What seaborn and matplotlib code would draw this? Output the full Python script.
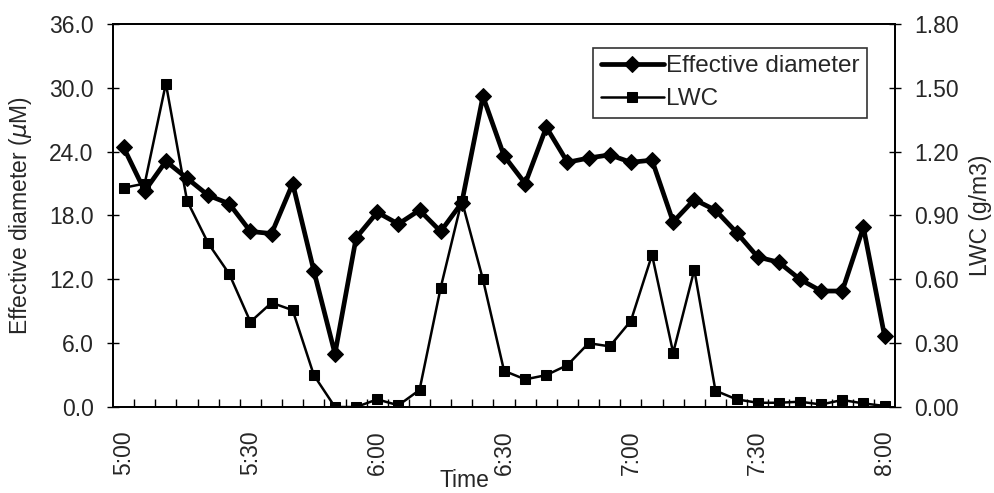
import matplotlib
matplotlib.use("Agg")
import matplotlib.pyplot as plt
import seaborn as sns
import pandas as pd
import numpy as np

times = ["5:00","5:05","5:10","5:15","5:20","5:25","5:30","5:35","5:40","5:45","5:50","5:55",
         "6:00","6:05","6:10","6:15","6:20","6:25","6:30","6:35","6:40","6:45","6:50","6:55",
         "7:00","7:05","7:10","7:15","7:20","7:25","7:30","7:35","7:40","7:45","7:50","7:55","8:00"]
eff_diameter = [24.4, 20.3, 23.1, 21.5, 19.9, 19.1, 16.5, 16.3, 21.0, 12.8, 5.0, 15.9,
                18.3, 17.2, 18.5, 16.5, 19.2, 29.2, 23.6, 21.0, 26.3, 23.0, 23.4, 23.7,
                23.0, 23.2, 17.4, 19.5, 18.5, 16.4, 14.1, 13.6, 12.0, 10.9, 10.9, 16.9, 6.7]
lwc = [1.03, 1.05, 1.52, 0.97, 0.77, 0.625, 0.40, 0.49, 0.455, 0.15, 0.0, 0.0,
       0.036, 0.008, 0.08, 0.56, 0.97, 0.60, 0.17, 0.13, 0.15, 0.197, 0.30, 0.285,
       0.405, 0.715, 0.255, 0.645, 0.077, 0.036, 0.02, 0.02, 0.025, 0.012, 0.033, 0.017, 0.005]
tick_labels = ["5:00", "5:30", "6:00", "6:30", "7:00", "7:30", "8:00"]

df = pd.DataFrame({"idx": np.arange(len(times)), "time": times,
                   "diam": eff_diameter, "lwc": lwc})

sns.set_theme(style="white")
plt.rcParams['font.family'] = ['Liberation Sans', 'DejaVu Sans']
FS = 16.5

fig = plt.figure(figsize=(9.95, 4.93), dpi=100)
ax = fig.add_axes([0.1136, 0.1744, 0.786, 0.777])
ax2 = ax.twinx()

sns.lineplot(data=df, x="idx", y="diam", ax=ax, color="black", linewidth=3.4,
             marker="D", markersize=8, markeredgecolor="black", label="Effective diameter", legend=False)
sns.lineplot(data=df, x="idx", y="lwc", ax=ax2, color="black", linewidth=1.8,
             marker="s", markersize=7.5, markeredgecolor="black", label="LWC", legend=False)

n = len(times)
ax.set_xlim(-0.5, n - 0.5)
ax.set_ylim(0, 36)
ax2.set_ylim(0, 1.8)
ax.set_yticks(np.arange(0, 36.1, 6))
ax.set_yticklabels([f"{v:.1f}" for v in np.arange(0, 36.1, 6)])
ax2.set_yticks(np.arange(0, 1.81, 0.3))
ax2.set_yticklabels([f"{v:.2f}" for v in np.arange(0, 1.81, 0.3)])

major = [times.index(t) for t in tick_labels]
ax.set_xticks(major)
ax.set_xticklabels(tick_labels, rotation=90)
ax.set_xticks(np.arange(0.5, n - 1, 1.0), minor=True)
ax.tick_params(axis="x", which="major", length=0, pad=17, labelsize=FS)
ax.tick_params(axis="x", which="minor", direction="in", length=6, width=1, color="black", bottom=True)
ax.tick_params(axis="y", direction="inout", length=8, width=1, color="black", left=True, labelsize=FS, pad=10)
ax2.tick_params(axis="y", direction="inout", length=8, width=1, color="black", right=True, labelsize=FS, pad=10)

for a in (ax, ax2):
    for s in a.spines.values():
        s.set_color("black")
        s.set_linewidth(1.3)

ax.set_ylabel("Effective diameter ($\\mu$M)", fontsize=FS)
ax2.set_ylabel("LWC (g/m3)", fontsize=FS)
ax.yaxis.set_label_coords(-0.101, 0.5)
ax2.yaxis.set_label_coords(1.094, 0.5)
ax.set_xlabel("Time", fontsize=FS)
ax.xaxis.set_label_coords(0.449, -0.162)

h1, l1 = ax.get_legend_handles_labels()
h2, l2 = ax2.get_legend_handles_labels()
leg = ax2.legend(h1 + h2, l1 + l2, loc="upper right", bbox_to_anchor=(0.964, 0.937),
                 frameon=True, fancybox=False, edgecolor="black", fontsize=17.5,
                 handlelength=2.6, borderpad=0.3, labelspacing=0.45, handletextpad=0.1,
                 borderaxespad=0)
leg.get_frame().set_linewidth(1.2)

fig.savefig("out.png", dpi=100, facecolor="white")
